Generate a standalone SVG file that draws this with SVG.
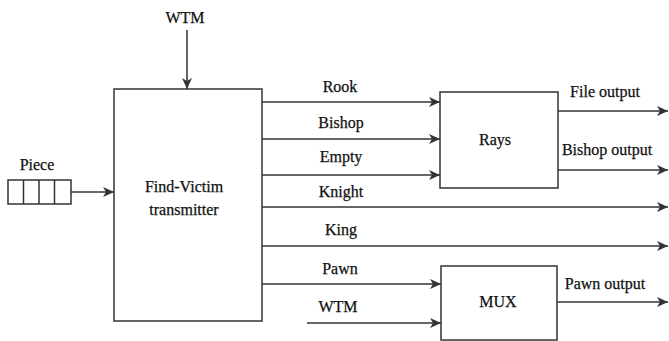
<svg xmlns="http://www.w3.org/2000/svg" width="669" height="341" viewBox="0 0 669 341">
<defs>
<style>
.box{fill:#fff;stroke:#333;stroke-width:1.5}
.ln{fill:none;stroke:#333;stroke-width:1.5;marker-end:url(#ah)}
text{font-family:"Liberation Serif","Times New Roman",serif;font-size:16px;fill:#111;stroke:#111;stroke-width:0.25}
.c{text-anchor:middle}
</style>
<marker id="ah" viewBox="0 0 11 10" refX="11" refY="5" markerWidth="11" markerHeight="10" markerUnits="userSpaceOnUse" orient="auto">
<path d="M0,0 L11,5 L0,10 L3,5 Z" fill="#333"/>
</marker>
</defs>
<rect width="669" height="341" fill="#fff"/>
<g id="connectors">
<line class="ln" x1="187" y1="30" x2="187" y2="89"/>
<line class="ln" x1="71" y1="192" x2="114" y2="192"/>
<line class="ln" x1="262" y1="102" x2="440" y2="102"/>
<line class="ln" x1="262" y1="139" x2="440" y2="139"/>
<line class="ln" x1="262" y1="175" x2="440" y2="175"/>
<line class="ln" x1="262" y1="207" x2="668" y2="207"/>
<line class="ln" x1="262" y1="246" x2="668" y2="246"/>
<line class="ln" x1="262" y1="284" x2="441" y2="284"/>
<line class="ln" x1="307" y1="323" x2="441" y2="323"/>
<line class="ln" x1="558" y1="111" x2="668" y2="111"/>
<line class="ln" x1="558" y1="170" x2="668" y2="170"/>
<line class="ln" x1="557" y1="302" x2="668" y2="302"/>
</g>
<g id="labels">
<text x="185" y="23" class="c">WTM</text>
<text x="340" y="92" class="c">Rook</text>
<text x="341" y="128" class="c">Bishop</text>
<text x="341" y="162" class="c">Empty</text>
<text x="341" y="197" class="c">Knight</text>
<text x="341" y="235" class="c">King</text>
<text x="340" y="274" class="c">Pawn</text>
<text x="338" y="312" class="c">WTM</text>
<text x="605" y="97" class="c">File output</text>
<text x="607" y="155" class="c">Bishop output</text>
<text x="605" y="289" class="c">Pawn output</text>
</g>
<g id="piece">
<text x="37" y="170" class="c">Piece</text>
<rect class="box" x="8" y="180" width="63" height="24"/>
<line x1="23.5" y1="180" x2="23.5" y2="204" stroke="#333" stroke-width="1.5"/>
<line x1="39" y1="180" x2="39" y2="204" stroke="#333" stroke-width="1.5"/>
<line x1="54.5" y1="180" x2="54.5" y2="204" stroke="#333" stroke-width="1.5"/>
</g>
<g id="find-victim">
<rect class="box" x="114" y="89" width="148" height="232"/>
<text x="184" y="192" class="c">Find-Victim</text>
<text x="184" y="215" class="c">transmitter</text>
</g>
<g id="rays">
<rect class="box" x="440" y="92" width="118" height="96"/>
<text x="495" y="145" class="c">Rays</text>
</g>
<g id="mux">
<rect class="box" x="441" y="266" width="116" height="74"/>
<text x="498" y="307" class="c">MUX</text>
</g>
</svg>
